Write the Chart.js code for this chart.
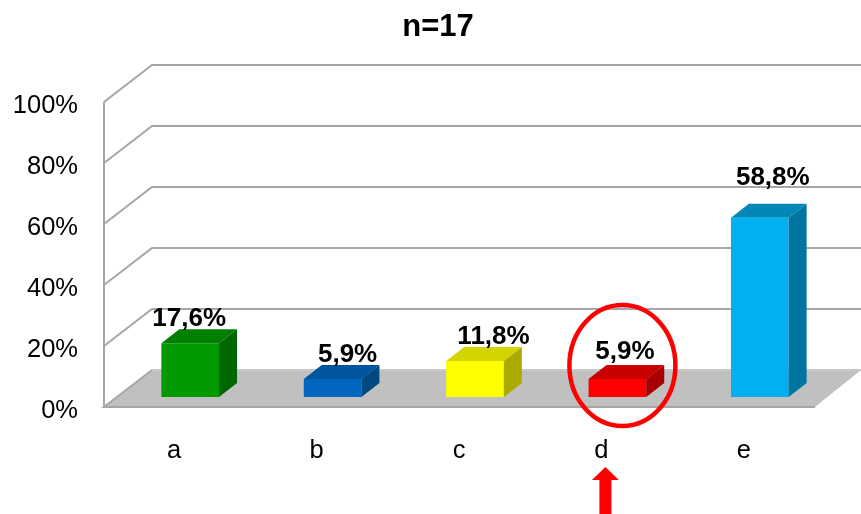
<!DOCTYPE html>
<html>
<head>
<meta charset="utf-8">
<style>html,body{margin:0;padding:0;background:#fff}canvas{display:block}</style>
<script src="https://cdn.jsdelivr.net/npm/chart.js@4"></script>
</head>
<body>
<canvas id="c" width="861" height="514"></canvas>
<script>
const categories = ['a', 'b', 'c', 'd', 'e'];
const values = [17.6, 5.9, 11.8, 5.9, 58.8];
const yTicks = [0, 20, 40, 60, 80, 100];
const titleText = 'n=17';
const highlightIndex = 3;

const frontColors = ['#009900', '#0066bf', '#ffff00', '#ff0000', '#00b0f0'];
const topColors = ['#007f00', '#0055a0', '#d4d400', '#c80000', '#0088b8'];
const sideColors = ['#006600', '#004a80', '#aaaa00', '#a80000', '#00759f'];
const labelNudgeX = [-1, 15, 18.5, 7.5, 13];
const labelNudgeY = [24, 24, 24, 27, 40];

const FONT = '"Liberation Sans", Arial, sans-serif';
const GRID = '#a6a6a6';
const WALL = { dx: 48, dy: -37, inset: 1 };
const BAR = { dx: 16, dy: -10, depthX: 18, depthY: -14 };

function poly(ctx, pts, fill) {
  ctx.beginPath();
  pts.forEach((p, i) => i ? ctx.lineTo(p[0], p[1]) : ctx.moveTo(p[0], p[1]));
  ctx.closePath();
  ctx.fillStyle = fill;
  ctx.fill();
}

const scene = {
  id: 'scene',
  afterLayout(chart) {
    chart.titleBlock.left += 30.5;
    chart.titleBlock.right += 30.5;
  },
  beforeDatasetsDraw(chart) {
    const { ctx, chartArea: a, scales: { y } } = chart;
    const y0 = y.getPixelForValue(0);
    const ax = a.left + WALL.inset;
    ctx.save();
    poly(ctx, [[ax, y0], [ax + WALL.dx, y0 + WALL.dy], [chart.width, y0 + WALL.dy], [a.right, y0]], '#c0c0c0');
    ctx.strokeStyle = GRID;
    ctx.lineWidth = 2;
    yTicks.forEach(v => {
      const py = y.getPixelForValue(v);
      ctx.beginPath();
      if (v === 0) {
        ctx.moveTo(a.right, py);
        ctx.lineTo(ax, py);
        ctx.lineTo(ax + WALL.dx, py + WALL.dy);
      } else {
        ctx.moveTo(ax, py);
        ctx.lineTo(ax + WALL.dx, py + WALL.dy);
        ctx.lineTo(chart.width, py + WALL.dy);
      }
      ctx.stroke();
    });
    ctx.beginPath();
    ctx.moveTo(ax, y.getPixelForValue(100));
    ctx.lineTo(ax, y0);
    ctx.stroke();
    ctx.strokeStyle = '#c8c8c8';
    ctx.beginPath();
    ctx.moveTo(ax + WALL.dx, y0 + WALL.dy);
    ctx.lineTo(chart.width, y0 + WALL.dy);
    ctx.stroke();
    ctx.restore();
  },
  beforeDatasetDraw(chart) {
    chart.ctx.save();
    chart.ctx.translate(BAR.dx, BAR.dy);
  },
  afterDatasetDraw(chart, args) {
    const { ctx } = chart;
    args.meta.data.forEach((bar, i) => {
      const p = bar.getProps(['x', 'y', 'base', 'width'], true);
      const l = p.x - p.width / 2, r = p.x + p.width / 2;
      poly(ctx, [[l, p.y], [l + BAR.depthX, p.y + BAR.depthY], [r + BAR.depthX, p.y + BAR.depthY], [r, p.y]], topColors[i]);
      poly(ctx, [[r, p.y], [r + BAR.depthX, p.y + BAR.depthY], [r + BAR.depthX, p.base + BAR.depthY], [r, p.base]], sideColors[i]);
    });
    ctx.restore();
  },
  afterDatasetsDraw(chart) {
    const { ctx, scales: { x, y } } = chart;
    const meta = chart.getDatasetMeta(0);
    ctx.save();
    ctx.font = 'bold 26px ' + FONT;
    ctx.fillStyle = '#000';
    ctx.textAlign = 'center';
    ctx.textBaseline = 'middle';
    meta.data.forEach((bar, i) => {
      const p = bar.getProps(['x', 'y'], true);
      const txt = values[i].toFixed(1).replace('.', ',') + '%';
      ctx.fillText(txt, p.x + BAR.dx + labelNudgeX[i], p.y + BAR.dy - labelNudgeY[i]);
    });
    // highlight ring around category d
    const cx = x.getPixelForValue(highlightIndex);
    const y0 = y.getPixelForValue(0);
    ctx.strokeStyle = '#ff0000';
    ctx.lineWidth = 4.5;
    ctx.beginPath();
    ctx.ellipse(cx + 21, y0 - 41.5, 53, 60.5, 0, 0, Math.PI * 2);
    ctx.stroke();
    // arrow below category d
    const ax = cx + 4;
    poly(ctx, [[ax, y0 + 60], [ax + 13.5, y0 + 73], [ax + 6, y0 + 73], [ax + 6, chart.height], [ax - 6, chart.height], [ax - 6, y0 + 73], [ax - 13.5, y0 + 73]], '#ff0000');
    ctx.restore();
  }
};

new Chart(document.getElementById('c'), {
  type: 'bar',
  data: {
    labels: categories,
    datasets: [{
      data: values,
      backgroundColor: frontColors,
      borderWidth: 0,
      barPercentage: 0.405,
      categoryPercentage: 1
    }]
  },
  options: {
    responsive: false,
    animation: false,
    events: [],
    layout: { padding: { left: 0, right: 46, top: 0, bottom: 0 } },
    plugins: {
      legend: { display: false },
      tooltip: { enabled: false },
      title: {
        display: true,
        text: titleText,
        color: '#000',
        font: { family: FONT, size: 31, weight: 'bold', lineHeight: 1.2 },
        padding: { top: 9, bottom: 55.8 }
      }
    },
    scales: {
      x: {
        grid: { display: false, drawTicks: false },
        border: { display: false },
        ticks: { color: '#000', font: { family: FONT, size: 25.5 }, padding: 29, maxRotation: 0 },
        afterFit(s) { s.height = 107; }
      },
      y: {
        min: 0,
        max: 100,
        grid: { display: false, drawTicks: false },
        border: { display: false },
        afterBuildTicks(s) { s.ticks = yTicks.map(v => ({ value: v })); },
        ticks: {
          color: '#000',
          font: { family: FONT, size: 25.5 },
          padding: 25,
          labelOffset: 3.5,
          callback: v => v + '%'
        },
        afterFit(s) { s.width = 103; }
      }
    }
  },
  plugins: [scene]
});
</script>
</body>
</html>
